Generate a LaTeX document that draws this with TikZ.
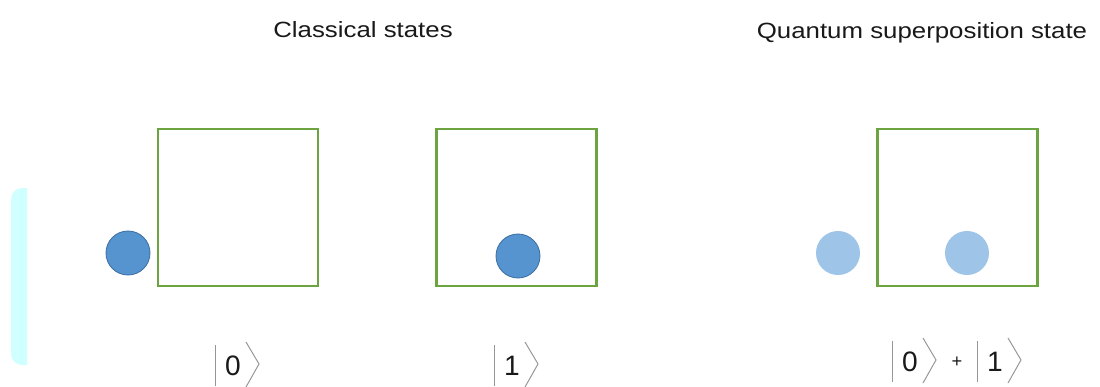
\documentclass[tikz,border=0pt]{standalone}
\usepackage{fontspec}
\setmainfont{Liberation Sans}
\newfontfamily\titlefont[FakeStretch=1.17]{Liberation Sans}
\usepackage{xcolor}
\usetikzlibrary{calc}
\definecolor{boxgreen}{RGB}{108,164,66}
\definecolor{ballblue}{RGB}{86,148,208}
\definecolor{balledge}{RGB}{62,112,164}
\definecolor{balllight}{RGB}{158,196,232}
\definecolor{ketgray}{RGB}{150,150,150}
\definecolor{stripcyan}{RGB}{208,255,255}
\definecolor{textgray}{RGB}{25,25,25}

\newcommand{\ketmark}[3]{%
  \node[ketdigit] (#1) at (#2) {#3};
  \draw[ketline] ($(#1.center)+(-18,-21)$) -- ($(#1.center)+(-18,20)$);
  \draw[ketline] ($(#1.center)+(13,-24)$) -- ($(#1.center)+(26,-2)$) -- ($(#1.center)+(13,21)$);
}

\begin{document}
\begin{tikzpicture}[x=0.025cm, y=-0.025cm,
  every node/.style={text=textgray},
  well/.style={draw=boxgreen, line width=2pt, minimum width=4cm, minimum height=3.92cm, inner sep=0pt},
  ball/.style={circle, fill=ballblue, draw=balledge, line width=0.6pt, minimum size=1.1cm, inner sep=0pt},
  ghost/.style={circle, fill=balllight, minimum size=1.1cm, inner sep=0pt},
  ketdigit/.style={font=\fontsize{20}{22}\selectfont, inner sep=0pt},
  ketline/.style={draw=ketgray, line width=0.7pt},
  heading/.style={font=\titlefont\fontsize{15.7}{18}\selectfont, anchor=base}]
  \useasboundingbox (0,0) rectangle (1100,387);
  \begin{scope}
    \clip (0,0) rectangle (27,387);
    \fill[stripcyan, rounded corners=8pt] (11,188) rectangle (50,365);
  \end{scope}

  \node[heading] (classical) at (363,38) {Classical states};
  \node[heading] (quantum) at (922,39) {Quantum superposition state};

  \node[well] (wellA) at (238,207.5) {};
  \node[well] (wellB) at (516.5,207.5) {};
  \node[well] (wellC) at (957.5,207.5) {};

  \node[ball] (ballA) at (128,253) {};
  \node[ball] (ballB) at (518,256) {};
  \node[ghost] (ghostL) at (838,253) {};
  \node[ghost] (ghostR) at (967,253) {};

  \ketmark{ketA}{233,366}{0}
  \ketmark{ketB}{512,366}{1}
  \ketmark{ketC}{910,362}{0}
  \ketmark{ketD}{995,362}{1}
  \node[font=\fontsize{13}{15}\selectfont] (plus) at (957,362) {+};
\end{tikzpicture}
\end{document}
